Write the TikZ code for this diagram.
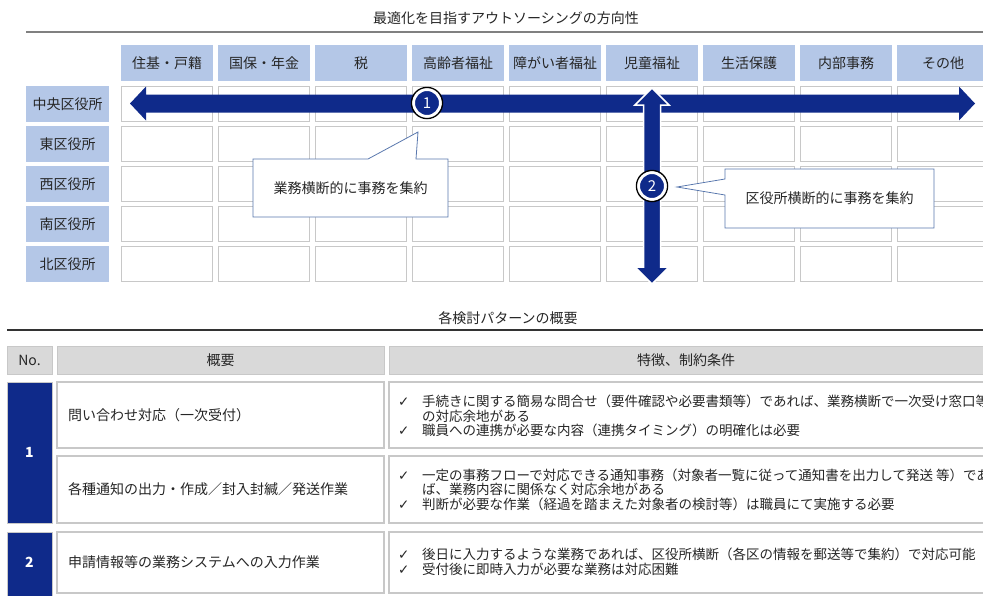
\documentclass[tikz,border=0pt]{standalone}
\usepackage{fontspec}
\setmainfont{Noto Sans CJK JP}
\newfontfamily\symfont{DejaVu Sans}
\usetikzlibrary{calc}
\definecolor{navy}{HTML}{0F2A8A}
\definecolor{hdrblue}{HTML}{B4C7E7}
\definecolor{cellline}{HTML}{C8C8C8}
\definecolor{hdrgray}{HTML}{D9D9D9}
\definecolor{txt}{HTML}{262626}
\definecolor{calloutline}{HTML}{5A78AE}
\newcommand{\ck}{\makebox[24pt][l]{\symfont\fontsize{13.5}{12}\selectfont ✓}}
\newcommand{\ind}{\hspace{24pt}}
\begin{document}
\begin{tikzpicture}[x=1pt,y=-1pt,
  every node/.style={text=txt, font=\fontsize{14}{16}\selectfont},
  hdr/.style={fill=hdrblue, minimum width=92pt, minimum height=36pt, inner sep=0pt},
  rowlab/.style={fill=hdrblue, minimum width=83pt, minimum height=36pt, inner sep=0pt},
  cell/.style={draw=cellline, fill=white, line width=1.5pt, minimum width=91pt, minimum height=35pt, inner sep=0pt},
  numc/.style={circle, fill=navy, draw=white, line width=3pt, minimum size=27pt, inner sep=0pt, text=white, font=\fontsize{15}{16}\selectfont},
  callout/.style={draw=calloutline, fill=white, line width=0.8pt},
  tcell/.style={draw=cellline, fill=white, line width=1.5pt},
  navybox/.style={fill=navy, draw=cellline, line width=1pt},
  bul/.style={anchor=west, align=left, inner sep=0pt, font=\fontsize{13.5}{14.5}\selectfont}
]
\clip (0,0) rectangle (983,595);
\fill[white] (0,0) rectangle (983,595);

% ---------- top part ----------
\node (t1) at (506,18) {最適化を目指すアウトソーシングの方向性};
\coordinate (l1a) at (26,32);
\coordinate (l1b) at (990,32);
\draw[gray, line width=1.2pt] (l1a) -- (l1b);

\foreach \lab [count=\i from 0] in {住基・戸籍,国保・年金,税,高齢者福祉,障がい者福祉,児童福祉,生活保護,内部事務,その他}
  \node[hdr] (h\i) at ({167+97*\i},63) {\lab};

\foreach \lab [count=\j from 0] in {中央区役所,東区役所,西区役所,南区役所,北区役所}
  \node[rowlab] (r\j) at (67.5,{104+40*\j}) {\lab};

\foreach \i in {0,...,8}
  \foreach \j in {0,...,4}
    \node[cell] (c\i-\j) at ({167+97*\i},{104+40*\j}) {};

% horizontal arrow
\coordinate (hl) at (130,103.5);
\coordinate (hr) at (975,103.5);
\fill[navy] (hl) -- ++(16,-17) -- ++(0,8) -- ($(hr)+(-16,-9)$) -- ++(0,-8) -- (hr)
  -- ++(-16,17) -- ++(0,-8) -- ($(hl)+(16,9)$) -- ++(0,8) -- cycle;

% vertical arrow
\coordinate (vt) at (652,88);
\coordinate (vb) at (652,284);
\filldraw[fill=navy, draw=white, line width=1.5pt] (vt) -- ++(17,17) -- ++(-8.5,0) -- ($(vb)+(8.5,-17)$) -- ++(8.5,0) -- (vb)
  -- ++(-17,-17) -- ++(8.5,0) -- ($(vt)+(-8.5,17)$) -- ++(-8.5,0) -- cycle;

% number circles
\node[numc] (n1) at (427,103) {1};
\draw[black, line width=1.3pt] (n1.center) circle[radius=15.6];
\node[numc] (n2) at (652,186) {2};
\draw[black, line width=1.3pt] (n2.center) circle[radius=15.6];

% callout 1
\coordinate (p1) at (418,132);
\draw[callout] (253,159) -- (368,159) -- (p1) -- (416,159) -- (448,159) -- (448,217) -- (253,217) -- cycle;
\node (k1) at (350.5,188) {業務横断的に事務を集約};

% callout 2
\coordinate (p2) at (677,187);
\draw[callout] (725,169) -- (934,169) -- (934,228) -- (725,228) -- (725,195) -- (p2) -- (725,179) -- cycle;
\node (k2) at (829.5,198.5) {区役所横断的に事務を集約};

% ---------- bottom part ----------
\node (t2) at (508,318) {各検討パターンの概要};
\coordinate (l2a) at (7,330);
\coordinate (l2b) at (990,330);
\draw[black!80, line width=1.6pt] (l2a) -- (l2b);

\filldraw[fill=hdrgray, draw=cellline, line width=1pt] (7,346) rectangle (52,374);
\node (hn) at (29.5,360) {No.};
\filldraw[fill=hdrgray, draw=cellline, line width=1pt] (57,346) rectangle (384,374);
\node (hg) at (220.5,360) {概要};
\filldraw[fill=hdrgray, draw=cellline, line width=1pt] (389,346) rectangle (995,374);
\node (ht) at (686,360) {特徴、制約条件};

% row 1
\filldraw[navybox] (7,382) rectangle (52,523);
\node (no1) at (29.5,452.5) [text=white, font=\fontsize{14}{16}\bfseries] {1};
\filldraw[tcell] (57,382) rectangle (384,448);
\filldraw[tcell] (389,382) rectangle (995,448);
\node (a1) at (68,415) [anchor=west, inner sep=0pt] {問い合わせ対応（一次受付）};
\node[bul] (b1) at (398,416) {\ck 手続きに関する簡易な問合せ（要件確認や必要書類等）であれば、業務横断で一次受け窓口等\\
\ind の対応余地がある\\
\ck 職員への連携が必要な内容（連携タイミング）の明確化は必要};

\filldraw[tcell] (57,456) rectangle (384,523);
\filldraw[tcell] (389,456) rectangle (995,523);
\node (a2) at (68,489.5) [anchor=west, inner sep=0pt] {各種通知の出力・作成／封入封緘／発送作業};
\node[bul] (b2) at (398,489.5) {\ck 一定の事務フローで対応できる通知事務（対象者一覧に従って通知書を出力して発送 等）であれ\\
\ind ば、業務内容に関係なく対応余地がある\\
\ck 判断が必要な作業（経過を踏まえた対象者の検討等）は職員にて実施する必要};

% row 2
\filldraw[navybox] (7,532) rectangle (52,600);
\node (no2) at (29.5,562) [text=white, font=\fontsize{14}{16}\bfseries] {2};
\filldraw[tcell] (57,532) rectangle (384,593);
\filldraw[tcell] (389,532) rectangle (995,593);
\node (a3) at (68,562) [anchor=west, inner sep=0pt] {申請情報等の業務システムへの入力作業};
\node[bul] (b3) at (398,562) {\ck 後日に入力するような業務であれば、区役所横断（各区の情報を郵送等で集約）で対応可能\\
\ck 受付後に即時入力が必要な業務は対応困難};
\end{tikzpicture}
\end{document}
